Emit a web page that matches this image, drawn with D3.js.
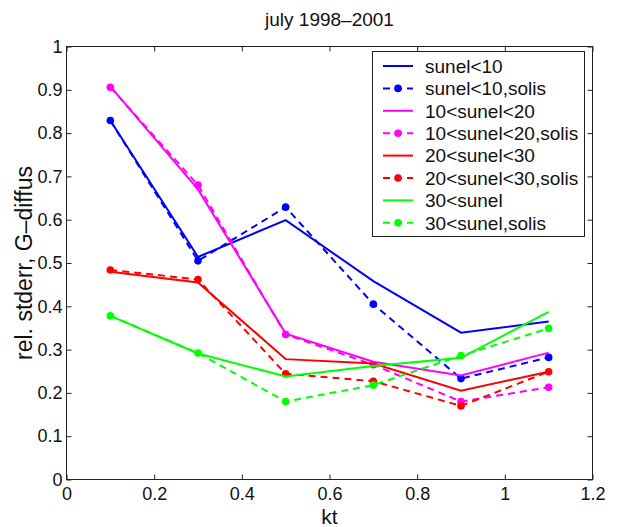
<!DOCTYPE html>
<html><head><meta charset="utf-8">
<script src="https://cdn.jsdelivr.net/npm/d3@7/dist/d3.min.js"></script>
<style>body{margin:0;background:#fff}svg{display:block}text{font-family:"Liberation Sans",Arial,sans-serif}</style>
</head><body><svg id="c" width="618" height="527"></svg>
<script>
const kt = [0.1, 0.3, 0.5, 0.7, 0.9, 1.1];
const sunel10       = [0.829, 0.514, 0.599, 0.458, 0.339, 0.365];
const sunel10Solis  = [0.829, 0.505, 0.629, 0.405, 0.233, 0.282];
const sunel20       = [0.908, 0.670, 0.337, 0.272, 0.240, 0.293];
const sunel20Solis  = [0.906, 0.680, 0.335, 0.265, 0.180, 0.213];
const sunel30       = [0.480, 0.455, 0.278, 0.268, 0.205, 0.249];
const sunel30Solis  = [0.484, 0.462, 0.244, 0.227, 0.170, 0.249];
const sunelHi       = [0.378, 0.291, 0.238, 0.262, 0.281, 0.387];
const sunelHiSolis  = [0.378, 0.292, 0.180, 0.218, 0.286, 0.349];
const seriesNames = ["sunel<10","sunel<10,solis","10<sunel<20","10<sunel<20,solis","20<sunel<30","20<sunel<30,solis","30<sunel","30<sunel,solis"];
const xTicks = [0, 0.2, 0.4, 0.6, 0.8, 1, 1.2];
const yTicks = [0, 0.1, 0.2, 0.3, 0.4, 0.5, 0.6, 0.7, 0.8, 0.9, 1];

const series = [
  {name: seriesNames[0], values: sunel10, color: "#0000ff", dashed: false},
  {name: seriesNames[1], values: sunel10Solis, color: "#0000ff", dashed: true},
  {name: seriesNames[2], values: sunel20, color: "#ff00ff", dashed: false},
  {name: seriesNames[3], values: sunel20Solis, color: "#ff00ff", dashed: true},
  {name: seriesNames[4], values: sunel30, color: "#ff0000", dashed: false},
  {name: seriesNames[5], values: sunel30Solis, color: "#ff0000", dashed: true},
  {name: seriesNames[6], values: sunelHi, color: "#00ff00", dashed: false},
  {name: seriesNames[7], values: sunelHiSolis, color: "#00ff00", dashed: true}
];

const L = 66.5, R = 592.5, T = 46.5, B = 479.5;
const svg = d3.select("#c");
const x = d3.scaleLinear().domain([0, 1.2]).range([L, R]);
const y = d3.scaleLinear().domain([0, 1]).range([B, T]);
const axisColor = "#222";
const FONT = '"Liberation Sans",Arial,sans-serif';

// frame
svg.append("rect").attr("x", L).attr("y", T).attr("width", R - L).attr("height", B - T)
  .attr("fill", "#fff").attr("stroke", axisColor).attr("stroke-width", 1);

// axes
const ax = svg.append("g").attr("transform", `translate(0,${B})`)
  .call(d3.axisBottom(x).tickValues(xTicks).tickFormat(d3.format("~g")).tickSize(-5).tickPadding(8));
const ay = svg.append("g").attr("transform", `translate(${L},0)`)
  .call(d3.axisLeft(y).tickValues(yTicks).tickFormat(d3.format("~g")).tickSize(-5).tickPadding(4));
const axT = svg.append("g").attr("transform", `translate(0,${T})`)
  .call(d3.axisTop(x).tickValues(xTicks).tickFormat("").tickSize(-5));
const ayR = svg.append("g").attr("transform", `translate(${R},0)`)
  .call(d3.axisRight(y).tickValues(yTicks).tickFormat("").tickSize(-5));
[ax, ay, axT, ayR].forEach(g => {
  g.select(".domain").remove();
  g.selectAll(".tick line").attr("stroke", axisColor);
  g.selectAll(".tick text").attr("fill", "#111").style("font-size", "18px").style("font-family", FONT);
});

// lines
const line = d3.line().x((d, i) => x(kt[i])).y(d => y(d));
series.forEach(s => {
  svg.append("path").datum(s.values).attr("d", line)
    .attr("fill", "none").attr("stroke", s.color).attr("stroke-width", 2)
    .attr("stroke-dasharray", s.dashed ? "7,5" : null);
  if (s.dashed) {
    svg.selectAll(null).data(s.values).enter().append("circle")
      .attr("cx", (d, i) => x(kt[i])).attr("cy", d => y(d)).attr("r", 3.8).attr("fill", s.color);
  }
});

// legend
const lg = svg.append("g");
lg.append("rect").attr("x", 372.5).attr("y", 51.5).attr("width", 212).attr("height", 185)
  .attr("fill", "#fff").attr("stroke", axisColor).attr("stroke-width", 1);
series.forEach((s, i) => {
  const yy = 66 + i * 22.4;
  lg.append("line").attr("x1", 383).attr("x2", 413).attr("y1", yy).attr("y2", yy)
    .attr("stroke", s.color).attr("stroke-width", 2).attr("stroke-dasharray", s.dashed ? "7,5" : null);
  if (s.dashed) lg.append("circle").attr("cx", 398).attr("cy", yy).attr("r", 3.8).attr("fill", s.color);
  lg.append("text").attr("x", 425).attr("y", yy).attr("dy", "0.36em").style("font-size", "19px").attr("fill", "#111").text(s.name);
});

// titles
svg.append("text").attr("x", (L + R) / 2).attr("y", 26).attr("text-anchor", "middle").style("font-size", "19px").attr("fill", "#111").text("july 1998–2001");
svg.append("text").attr("x", (L + R) / 2).attr("y", 524).attr("text-anchor", "middle").style("font-size", "21px").attr("fill", "#111").text("kt");
svg.append("text").attr("transform", `translate(32,${(T + B) / 2}) rotate(-90)`).attr("text-anchor", "middle").style("font-size", "23px").attr("fill", "#111").text("rel. stderr, G–diffus");
</script></body></html>
